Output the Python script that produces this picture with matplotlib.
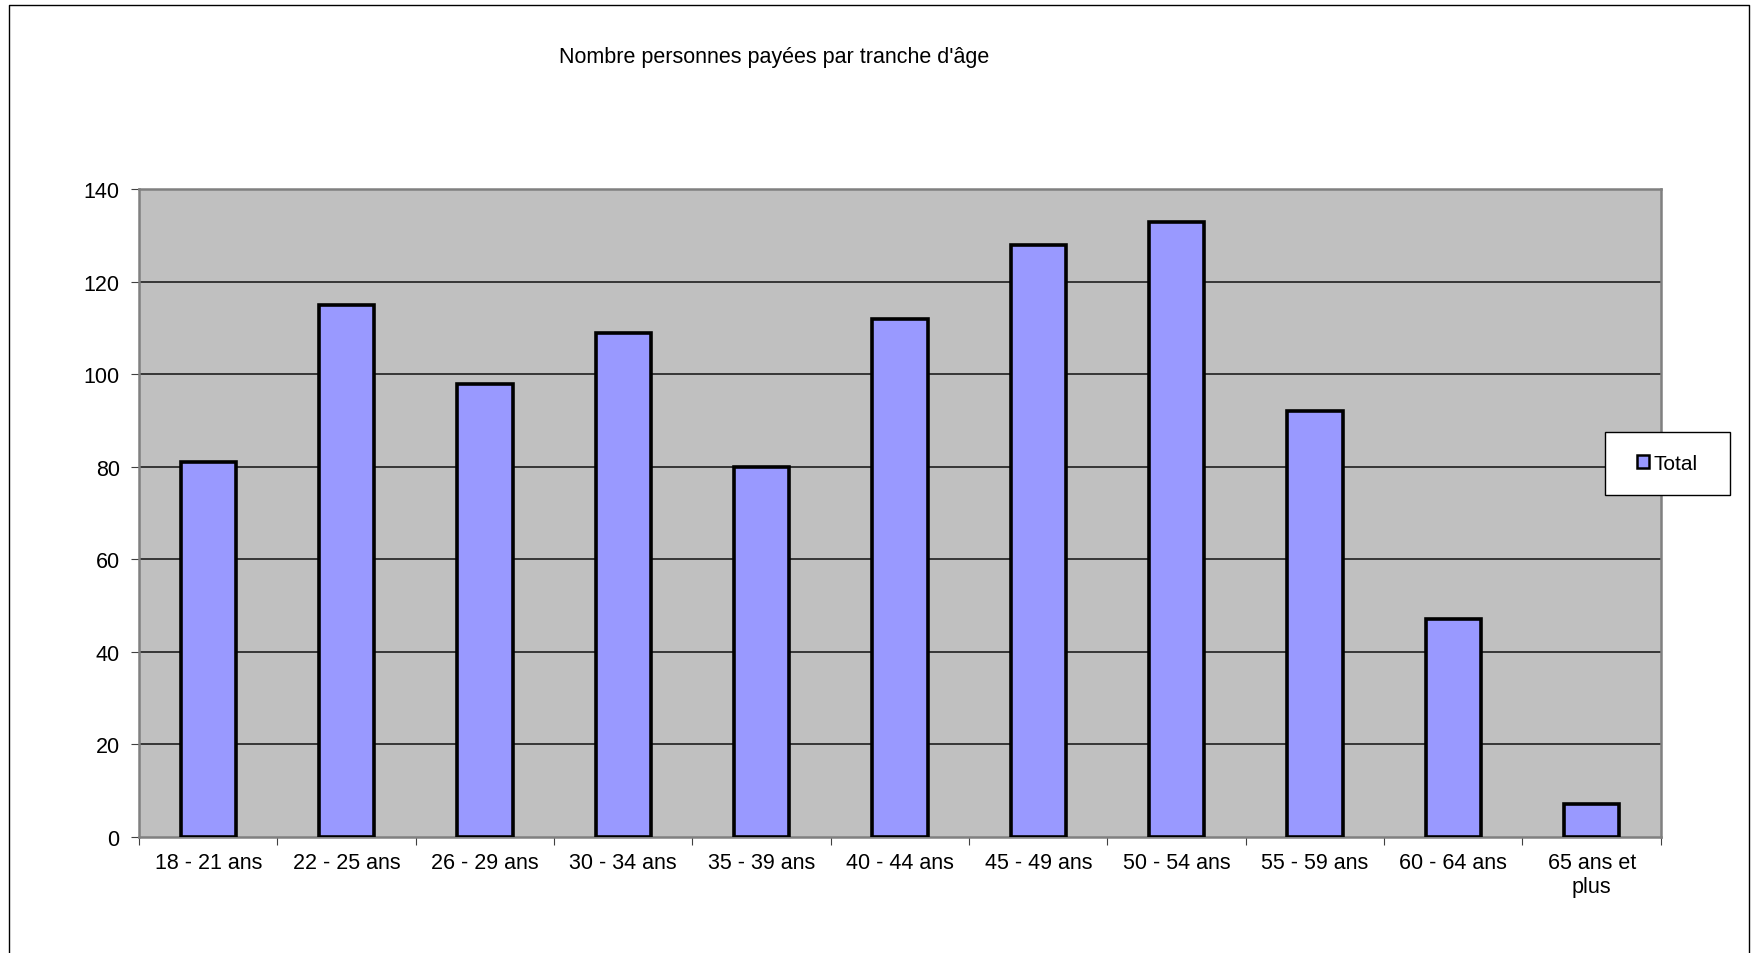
import numpy as np
import matplotlib
matplotlib.use("Agg")
import matplotlib.pyplot as plt
from matplotlib.lines import Line2D
from matplotlib.patches import Patch, Rectangle

plt.rcParams['font.family'] = ['Liberation Sans', 'DejaVu Sans']

categories = ["18 - 21 ans", "22 - 25 ans", "26 - 29 ans", "30 - 34 ans",
              "35 - 39 ans", "40 - 44 ans", "45 - 49 ans", "50 - 54 ans",
              "55 - 59 ans", "60 - 64 ans", "65 ans et\nplus"]
totals = [81, 115, 98, 109, 80, 112, 128, 133, 92, 47, 7]
yticks = [0, 20, 40, 60, 80, 100, 120, 140]

fig = plt.figure(figsize=(17.56, 9.54), dpi=100)
ax = fig.add_axes([0.0792, 0.122, 0.8666, 0.6785])

x = np.arange(len(categories))
ax.set_facecolor("#C0C0C0")
ax.bar(x, totals, width=0.4, color="#9999FF", edgecolor="black",
       linewidth=2.6, zorder=3, label="Total")

ax.set_xlim(-0.5, len(categories) - 0.5)
ax.set_ylim(0, 140)
ax.set_yticks(yticks)
ax.tick_params(axis="y", labelsize=15.5, direction="out", length=6,
               color="#404040", pad=8)
# ticks between categories, labels centred under bars
ax.set_xticks(np.arange(len(categories) + 1) - 0.5)
ax.set_xticklabels([])
ax.set_xticks(x, minor=True)
ax.set_xticklabels(categories, minor=True, fontsize=15.5, linespacing=1.2)
ax.tick_params(axis="x", which="major", direction="out", length=6,
               color="#404040")
ax.tick_params(axis="x", which="minor", length=0, pad=11)

for v in yticks[1:-1]:
    ax.axhline(v, color="#101010", linewidth=1.1, zorder=1)

for s in ["left", "right", "top", "bottom"]:
    ax.spines[s].set_color("#808080")
    ax.spines[s].set_linewidth(1.8)

fig.text(0.441, 0.94, "Nombre personnes payées par tranche d'âge",
         ha="center", va="center", fontsize=15.5)

# legend box
fig.add_artist(Rectangle((0.914, 0.48), 0.071, 0.066, transform=fig.transFigure,
                         facecolor="white", edgecolor="black", linewidth=1.0))
leg = fig.legend(handles=[Patch(facecolor="#9999FF", edgecolor="black",
                                linewidth=1.8, label="Total")],
                 loc="center", bbox_to_anchor=(0.9495, 0.513),
                 fontsize=15, frameon=False,
                 handlelength=0.55, handleheight=0.55, handletextpad=0.2,
                 borderpad=0, borderaxespad=0)

# outer chart-area border (bottom edge is cut off in the original)
fig.add_artist(Line2D([0.005, 0.005, 0.9962, 0.9962], [0.0, 0.994, 0.994, 0.0],
                      transform=fig.transFigure, color="black", linewidth=1.0))

fig.savefig("out.png", dpi=100)
